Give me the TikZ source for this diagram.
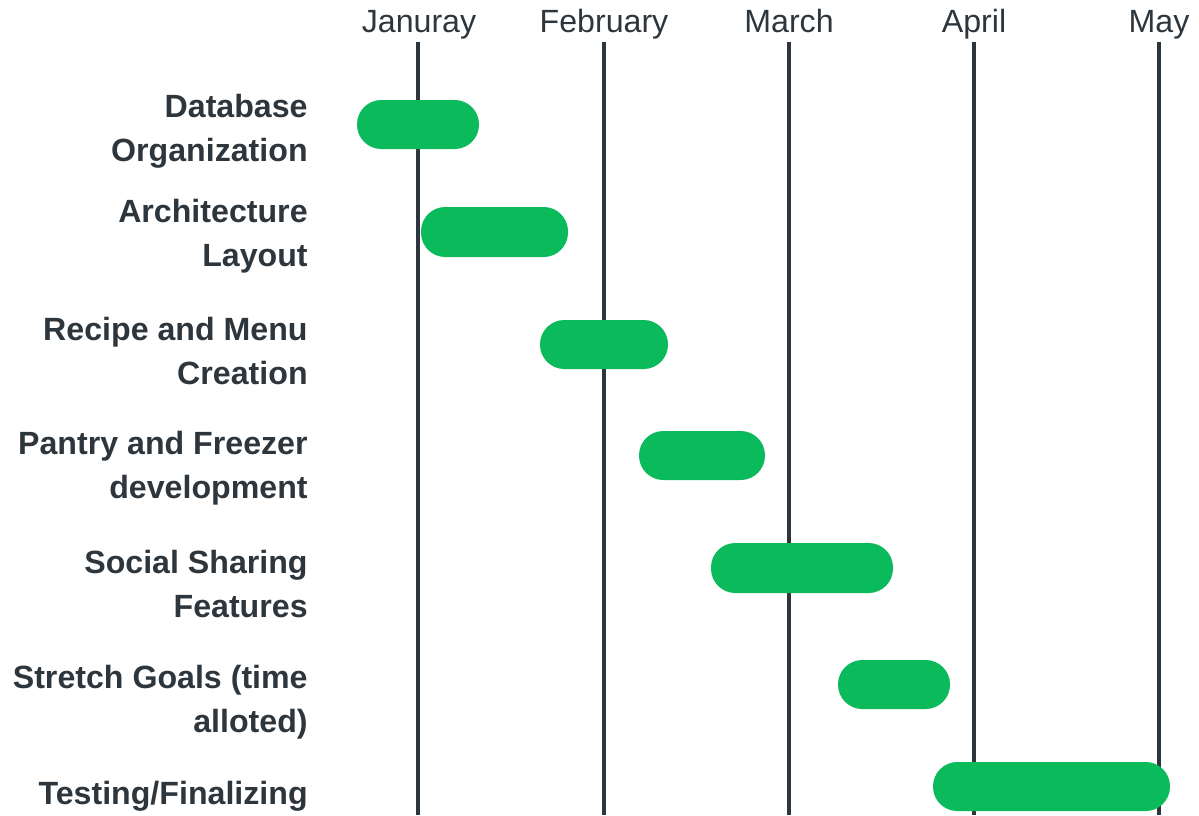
\documentclass[tikz,border=0pt]{standalone}
\usepackage{fontspec}
\setmainfont{Liberation Sans}
\definecolor{inkgray}{HTML}{2E363D}
\definecolor{bargreen}{HTML}{0BBA5A}
\tikzset{
  month/.style={anchor=base, text=inkgray, font=\fontsize{18.3}{22}\selectfont, inner sep=0pt},
  task/.style={anchor=east, align=right, text=inkgray, font=\fontsize{18.3}{25}\selectfont\bfseries, inner sep=0pt},
  grid line/.style={draw=inkgray, line width=2.3pt},
  bar/.style={fill=bargreen, rounded corners=13.8pt}
}
\begin{document}
\begin{tikzpicture}[x=0.02cm, y=-0.02cm]
   \useasboundingbox (0,0) rectangle (1199,815);
   % months and their lines
   \node[month] (jan) at (419,32) {Januray};
   \node[month] (feb) at (604,32) {February};
   \node[month] (mar) at (789,32) {March};
   \node[month] (apr) at (974,32) {April};
   \node[month] (may) at (1159,32) {May};
   \draw[grid line] (418,42)--(418,815);
   \draw[grid line] (604,42)--(604,815);
   \draw[grid line] (789,42)--(789,815);
   \draw[grid line] (974,42)--(974,815);
   \draw[grid line] (1159,42)--(1159,815);
   % bars
   \fill[bar] (357,100) rectangle (479,149);
   \fill[bar] (421,207) rectangle (568,257);
   \fill[bar] (540,320) rectangle (668,369);
   \fill[bar] (639,431) rectangle (765,480);
   \fill[bar] (711,543) rectangle (893,593);
   \fill[bar] (838,660) rectangle (950,709);
   \fill[bar] (933,762) rectangle (1170,811);
   % tasks
   \node[task] (dbo) at (308,131) {Database\\Organization};
   \node[task] (arch) at (308,236) {Architecture\\Layout};
   \node[task] (recipe) at (308,351) {Recipe and Menu\\Creation};
   \node[task] (pantry) at (308,468) {Pantry and Freezer\\development};
   \node[task] (social) at (308,584) {Social Sharing\\Features};
   \node[task] (stretch) at (308,702) {Stretch Goals (time\\alloted)};
   \node[task] (testing) at (308,796) {Testing/Finalizing};
\end{tikzpicture}
\end{document}
